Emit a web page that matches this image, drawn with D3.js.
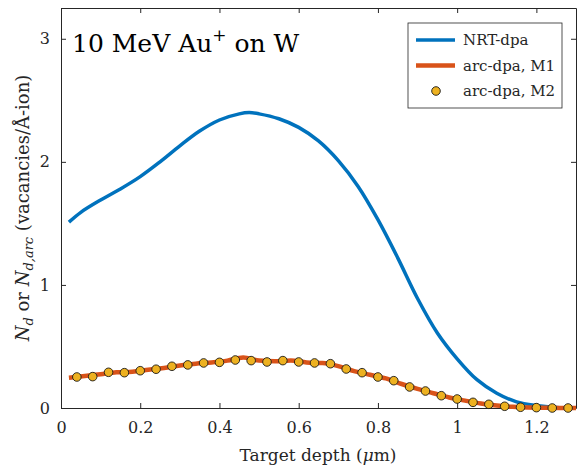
<!DOCTYPE html>
<html>
<head>
  <meta charset="UTF-8">
  <script src="https://d3js.org/d3.v7.min.js"></script>
  <style>
    body { margin: 0; background: white; }
    text { font-family: "DejaVu Serif", serif; fill: #262626; }
  </style>
</head>
<body>
  <svg id="chart" width="577" height="466"></svg>
  <script>
    // NRT-dpa curve (blue)
    const nrtDepth = [0.02, 0.05, 0.10, 0.15, 0.20, 0.25, 0.30, 0.35, 0.40, 0.45, 0.475, 0.50, 0.55, 0.60, 0.65, 0.70,
      0.75, 0.80, 0.85, 0.90, 0.95, 1.00, 1.05, 1.10, 1.15, 1.20, 1.25, 1.30];
    const nrtValue = [1.51, 1.59, 1.69, 1.78, 1.88, 2.00, 2.13, 2.25, 2.34, 2.39, 2.40, 2.39, 2.35, 2.28, 2.17, 2.01,
      1.80, 1.53, 1.22, 0.89, 0.61, 0.40, 0.23, 0.12, 0.05, 0.02, 0.005, 0.0];

    // arc-dpa, M1 (orange line)
    const m1Depth = [0.02, 0.06, 0.10, 0.14, 0.18, 0.22, 0.26, 0.30, 0.34, 0.38, 0.42, 0.46, 0.50, 0.54, 0.58, 0.62,
      0.66, 0.70, 0.74, 0.78, 0.82, 0.86, 0.90, 0.94, 0.98, 1.02, 1.06, 1.10, 1.14, 1.18, 1.22, 1.26, 1.30];
    const m1Value = [0.246, 0.26, 0.275, 0.29, 0.295, 0.31, 0.325, 0.345, 0.36, 0.37, 0.385, 0.41, 0.385, 0.38, 0.385, 0.37,
      0.365, 0.34, 0.30, 0.27, 0.24, 0.195, 0.155, 0.12, 0.085, 0.06, 0.037, 0.02, 0.01, 0.004, 0.002, 0.0, 0.0];

    // arc-dpa, M2 (markers)
    const m2Depth = [0.04, 0.08, 0.12, 0.16, 0.20, 0.24, 0.28, 0.32, 0.36, 0.40, 0.44, 0.48, 0.52, 0.56, 0.60, 0.64,
      0.68, 0.72, 0.76, 0.80, 0.84, 0.88, 0.92, 0.96, 1.00, 1.04, 1.08, 1.12, 1.16, 1.20, 1.24, 1.28];
    const m2Value = [0.252, 0.255, 0.29, 0.287, 0.303, 0.315, 0.339, 0.35, 0.366, 0.371, 0.39, 0.385, 0.374, 0.385, 0.374, 0.366,
      0.36, 0.317, 0.287, 0.252, 0.222, 0.171, 0.138, 0.10, 0.073, 0.046, 0.03, 0.014, 0.006, 0.003, 0.0, 0.0];

    const xTicks = [0, 0.2, 0.4, 0.6, 0.8, 1, 1.2];
    const yTicks = [0, 1, 2, 3];
    const legendLabels = ["NRT-dpa", "arc-dpa, M1", "arc-dpa, M2"];

    const svg = d3.select("svg#chart");
    const margins = { top: 8, right: 1, bottom: 58, left: 61 };
    const width = +svg.attr("width");
    const height = +svg.attr("height");

    const xScale = d3.scaleLinear().domain([0, 1.3]).range([margins.left, width - margins.right]);
    const yScale = d3.scaleLinear().domain([0, 3.25]).range([height - margins.bottom, margins.top]);

    const axisColor = "#262626";
    const serif = "'DejaVu Serif', serif";

    // axes with inward ticks, box on
    const tickLen = 5;
    const bottomAxis = d3.axisBottom(xScale).tickValues(xTicks).tickSizeInner(-tickLen).tickSizeOuter(0)
      .tickPadding(14).tickFormat(d3.format("~g"));
    const leftAxis = d3.axisLeft(yScale).tickValues(yTicks).tickSizeInner(-tickLen).tickSizeOuter(0)
      .tickPadding(11).tickFormat(d3.format("~g"));
    const topAxis = d3.axisTop(xScale).tickValues(xTicks).tickSizeInner(-tickLen).tickSizeOuter(0).tickFormat("");
    const rightAxis = d3.axisRight(yScale).tickValues(yTicks).tickSizeInner(-tickLen).tickSizeOuter(0).tickFormat("");

    const axes = svg.append("g").attr("id", "axes");
    const gb = axes.append("g").attr("transform", `translate(0,${height - margins.bottom})`).call(bottomAxis);
    const gl = axes.append("g").attr("transform", `translate(${margins.left},0)`).call(leftAxis);
    const gt = axes.append("g").attr("transform", `translate(0,${margins.top})`).call(topAxis);
    const gr = axes.append("g").attr("transform", `translate(${width - margins.right},0)`).call(rightAxis);
    [gb, gl, gt, gr].forEach(g => {
      g.selectAll("path, line").attr("stroke", axisColor);
      g.selectAll("text").attr("fill", axisColor).attr("font-size", 16).attr("font-family", serif);
    });

    const nrtData = nrtDepth.map((d, i) => [d, nrtValue[i]]);
    const m1Data = m1Depth.map((d, i) => [d, m1Value[i]]);
    const m2Data = m2Depth.map((d, i) => [d, m2Value[i]]);

    const smoothLine = d3.line().x(d => xScale(d[0])).y(d => yScale(d[1])).curve(d3.curveCatmullRom.alpha(0.5));
    const m1Line = d3.line().x(d => xScale(d[0])).y(d => yScale(d[1])).curve(d3.curveMonotoneX);

    // NRT-dpa line
    svg.append("path").datum(nrtData).attr("d", smoothLine)
      .attr("fill", "none").attr("stroke", "#0072BD").attr("stroke-width", 3.5);

    // arc-dpa M1 line
    svg.append("path").datum(m1Data).attr("d", m1Line)
      .attr("fill", "none").attr("stroke", "#D95319").attr("stroke-width", 4.5);

    // arc-dpa M2 markers
    svg.selectAll("circle.m2").data(m2Data).join("circle").attr("class", "m2")
      .attr("cx", d => xScale(d[0])).attr("cy", d => yScale(d[1])).attr("r", 4.3)
      .attr("fill", "#EDB120").attr("stroke", "#1a1a1a").attr("stroke-width", 0.9);

    // title inside plot
    const title = svg.append("text").attr("x", 72).attr("y", 52).attr("font-size", 25)
      .attr("font-family", serif).style("fill", "black");
    title.append("tspan").text("10 MeV Au");
    title.append("tspan").attr("dy", -11).attr("font-size", 17).text("+");
    title.append("tspan").attr("dy", 11).text(" on W");

    // x label
    const xl = svg.append("text").attr("x", 318).attr("y", 461).attr("text-anchor", "middle")
      .attr("font-size", 17).attr("font-family", serif);
    xl.append("tspan").text("Target depth (");
    xl.append("tspan").style("font-style", "italic").text("μ");
    xl.append("tspan").text("m)");

    // y label
    const yl = svg.append("text").attr("transform", "translate(29,208) rotate(-90)")
      .attr("text-anchor", "middle").attr("font-size", 18).attr("font-family", serif);
    yl.append("tspan").style("font-style", "italic").text("N");
    yl.append("tspan").style("font-style", "italic").attr("font-size", 13).attr("dy", 4).text("d");
    yl.append("tspan").attr("dy", -4).text(" or ");
    yl.append("tspan").style("font-style", "italic").text("N");
    yl.append("tspan").style("font-style", "italic").attr("font-size", 13).attr("dy", 4).text("d,arc");
    yl.append("tspan").attr("dy", -4).text(" (vacancies/Å-ion)");

    // legend
    const legend = svg.append("g").attr("transform", "translate(408,23)");
    legend.append("rect").attr("width", 154).attr("height", 85)
      .attr("fill", "white").attr("stroke", axisColor).attr("stroke-width", 0.8);
    const rowY = [17, 42.5, 68];
    legend.append("line").attr("x1", 8).attr("x2", 47).attr("y1", rowY[0]).attr("y2", rowY[0])
      .attr("stroke", "#0072BD").attr("stroke-width", 3.5);
    legend.append("line").attr("x1", 8).attr("x2", 47).attr("y1", rowY[1]).attr("y2", rowY[1])
      .attr("stroke", "#D95319").attr("stroke-width", 4.5);
    legend.append("circle").attr("cx", 28).attr("cy", rowY[2]).attr("r", 4.3)
      .attr("fill", "#EDB120").attr("stroke", "#1a1a1a").attr("stroke-width", 0.9);
    legend.selectAll("text.lab").data(legendLabels).join("text").attr("class", "lab")
      .attr("x", 55).attr("y", (d, i) => rowY[i] + 5).attr("font-size", 15).attr("font-family", serif)
      .text(d => d);
  </script>
</body>
</html>
